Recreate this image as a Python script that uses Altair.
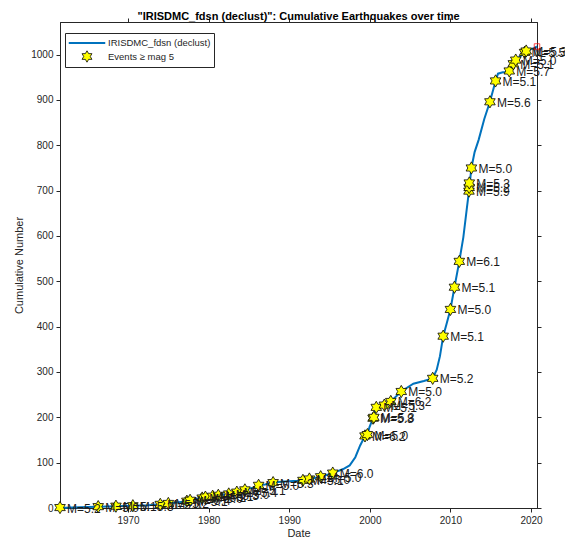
import math
import altair as alt
import pandas as pd

# ---------------- data ----------------
line_years = [1961.56, 1963.0, 1965.0, 1966.3, 1968.5, 1970.6, 1972.5, 1974.0, 1975.0, 1976.0,
              1977.3, 1977.7, 1978.5, 1979.2, 1979.6, 1980.5, 1981.2, 1982.5, 1983.5, 1984.5,
              1985.5, 1986.2, 1987.0, 1988.0, 1989.0, 1990.0, 1991.0, 1991.7, 1992.5, 1993.9,
              1995.4, 1996.7, 1997.5, 1998.2, 1998.8, 1999.4, 1999.7, 1999.95, 2000.4, 2000.8,
              2001.8, 2002.6, 2003.9, 2005.4, 2006.7, 2007.8, 2008.3, 2008.7, 2009.1, 2009.5,
              2010.0, 2010.5, 2011.1, 2011.6, 2012.05, 2012.3, 2012.6, 2013.0, 2013.5, 2014.2,
              2014.9, 2015.6, 2015.9, 2016.5, 2017.0, 2017.3, 2017.8, 2018.1, 2018.6, 2019.2,
              2019.4, 2019.9, 2020.4, 2020.74]
line_counts = [0, 1, 2, 3, 4, 5, 6, 8, 10, 12,
               15, 17, 20, 22, 24, 26, 28, 31, 35, 40,
               45, 50, 52, 56, 58, 59, 60, 61, 64, 69,
               77, 86, 94, 112, 138, 159, 162, 178, 198, 222,
               227, 235, 257, 274, 280, 286, 305, 335, 379, 405,
               438, 487, 544, 597, 663, 699, 750, 785, 812, 858,
               896, 942, 958, 961, 962, 964, 980, 988, 995, 1005,
               1008, 1011, 1015, 1018]

ev_years = [1961.56, 1966.3, 1968.5, 1970.6, 1974.0, 1975.0, 1977.3, 1977.7, 1979.2, 1979.6,
            1980.5, 1981.2, 1982.5, 1983.5, 1984.5, 1986.2, 1988.0, 1991.7, 1992.5, 1993.9,
            1995.4, 1999.4, 1999.7, 2000.4, 2000.5, 2000.8, 2001.8, 2002.6, 2003.9, 2007.8,
            2009.1, 2010.0, 2010.5, 2011.1, 2012.3, 2012.32, 2012.34, 2012.6, 2014.9, 2015.6,
            2017.3, 2017.8, 2018.1, 2019.2, 2019.4]
ev_counts = [1, 3, 4, 5, 8, 10, 15, 17, 22, 24,
             26, 28, 31, 35, 40, 50, 56, 61, 64, 69,
             77, 159, 162, 198, 200, 222, 227, 235, 257, 286,
             379, 438, 487, 544, 699, 707, 717, 750, 896, 942,
             964, 980, 988, 1005, 1008]
ev_mags = [5.2, 5.0, 5.1, 5.3, 5.0, 5.2, 5.1, 5.4, 5.0, 5.2,
           5.1, 5.3, 5.0, 5.4, 5.1, 5.0, 5.3, 5.1, 5.0, 5.0,
           6.0, 6.2, 5.0, 5.8, 5.3, 5.1, 5.3, 6.2, 5.0, 5.2,
           5.1, 5.0, 5.1, 6.1, 5.9, 5.2, 5.3, 5.0, 5.6, 5.1,
           5.7, 5.1, 5.0, 5.5, 5.3]

last_year = [2020.74]
last_count = [1018]

x_ticks = [1970, 1980, 1990, 2000, 2010, 2020]
y_ticks = [0, 100, 200, 300, 400, 500, 600, 700, 800, 900, 1000]

SERIES = "IRISDMC_fdsn (declust)"
EVENTS = "Events \u2265 mag 5"
TITLE = "\"IRISDMC_fdsn (declust)\": Cumulative Earthquakes over time"

# ---------------- tables ----------------
line_df = pd.DataFrame({"year": line_years, "count": line_counts})
ev_df = pd.DataFrame({"year": ev_years, "count": ev_counts, "mag": ev_mags})
ev_df["label"] = ev_df["mag"].map(lambda m: f"M={m:.1f}")
ev_df["kind"] = EVENTS
last_df = pd.DataFrame({"year": last_year, "count": last_count})

# hexagram marker path (MATLAB 'h')
pts = []
for k in range(12):
    a = math.radians(-90 + 30 * k)
    r = 1.0 if k % 2 == 0 else 1 / math.sqrt(3)
    pts.append(f"{r * math.cos(a):.3f},{r * math.sin(a):.3f}")
HEX = "M" + "L".join(pts) + "Z"
LINE_SYM = "M-3.2,0H3.2"

FONT = "Liberation Sans"
AX = "#262626"
BLUE = "#0072BD"

xs = alt.Scale(domain=[1961.56, 2020.74], nice=False, zero=False)
ys = alt.Scale(domain=[0, 1072], nice=False, zero=False)

x_axis = alt.Axis(values=x_ticks, format="d", title="Date", grid=False, tickSize=4,
                  labelPadding=3, titlePadding=2, domainColor=AX, tickColor=AX,
                  labelColor=AX, titleColor=AX, labelFont=FONT, titleFont=FONT,
                  labelFontSize=10, titleFontSize=11, titleFontWeight="normal")
y_axis = alt.Axis(values=y_ticks, format="d", title="Cumulative Number", grid=False, tickSize=4,
                  labelPadding=3, titlePadding=6, domainColor=AX, tickColor=AX,
                  labelColor=AX, titleColor=AX, labelFont=FONT, titleFont=FONT,
                  labelFontSize=10, titleFontSize=11, titleFontWeight="normal")

line = alt.Chart(line_df).mark_line(color=BLUE, strokeWidth=2, interpolate="linear").encode(
    x=alt.X("year:Q", scale=xs, axis=x_axis),
    y=alt.Y("count:Q", scale=ys, axis=y_axis),
)

# top/right tick-only axes (MATLAB box)
frame = alt.Chart(line_df).mark_point(opacity=0).encode(
    x=alt.X("year:Q", scale=xs, axis=alt.Axis(orient="top", values=x_ticks, labels=False,
                                              title=None, grid=False, tickSize=4,
                                              domainColor=AX, tickColor=AX)),
    y=alt.Y("count:Q", scale=ys, axis=alt.Axis(orient="right", values=y_ticks, labels=False,
                                               title=None, grid=False, tickSize=4,
                                               domainColor=AX, tickColor=AX)),
)

labels = alt.Chart(ev_df).mark_text(align="left", baseline="middle", dx=7, dy=1,
                                    font=FONT, fontSize=12, color="#1a1a1a").encode(
    x=alt.X("year:Q", scale=xs, axis=None),
    y=alt.Y("count:Q", scale=ys, axis=None),
    text="label:N",
)

dom = [SERIES, EVENTS]
stars = alt.Chart(ev_df).mark_point(size=150, opacity=1).encode(
    x=alt.X("year:Q", scale=xs, axis=None),
    y=alt.Y("count:Q", scale=ys, axis=None),
    shape=alt.Shape("kind:N", scale=alt.Scale(domain=dom, range=[LINE_SYM, HEX]),
                    legend=alt.Legend(title=None)),
    fill=alt.Fill("kind:N", scale=alt.Scale(domain=dom, range=["transparent", "#FFFF00"]),
                  legend=alt.Legend(title=None)),
    stroke=alt.Stroke("kind:N", scale=alt.Scale(domain=dom, range=[BLUE, "#000000"]),
                      legend=alt.Legend(title=None)),
    strokeWidth=alt.StrokeWidth("kind:N", scale=alt.Scale(domain=dom, range=[2, 0.8]),
                                legend=alt.Legend(title=None)),
)

last = alt.Chart(last_df).mark_point(shape="square", size=30, color="red", filled=False,
                                     strokeWidth=1).encode(
    x=alt.X("year:Q", scale=xs, axis=None),
    y=alt.Y("count:Q", scale=ys, axis=None),
)

chart = alt.layer(line, frame, stars, labels, last).resolve_axis(
    x="independent", y="independent"
).properties(
    width=477, height=486,
    autosize=alt.AutoSizeParams(type="none"),
    padding={"left": 52, "top": 14, "right": 28, "bottom": 35},
    title=alt.TitleParams(TITLE, font=FONT, fontSize=11, fontWeight="bold", color="#000000",
                          anchor="middle", offset=-4),
).configure_view(stroke=AX, strokeWidth=1).configure_legend(
    orient="none", legendX=5, legendY=11, direction="vertical",
    strokeColor=AX, fillColor="white", padding=3, cornerRadius=0,
    labelFont=FONT, labelFontSize=9.5, labelColor=AX,
    symbolSize=130, symbolOffset=12, labelOffset=14, rowPadding=1,
)

chart.save("out.html", embed_options={"renderer": "svg", "actions": False})
